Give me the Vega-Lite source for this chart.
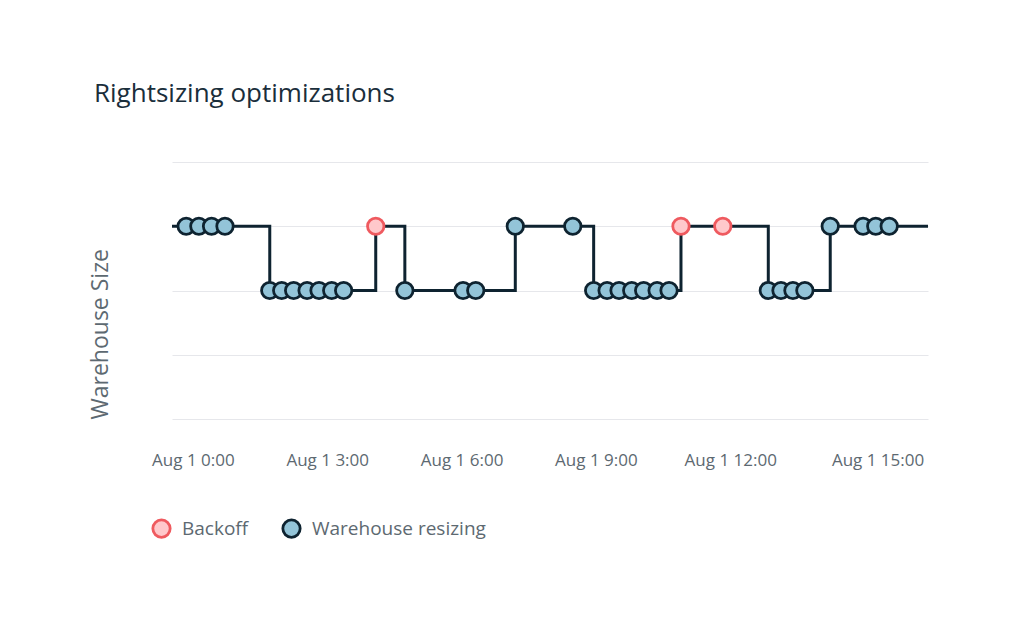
{
  "$schema": "https://vega.github.io/schema/vega-lite/v6.json",
  "autosize": "none",
  "width": 756,
  "height": 257,
  "padding": {"left": 172, "top": 162, "right": 96, "bottom": 218},
  "background": "#ffffff",
  "title": {
    "text": "Rightsizing optimizations",
    "anchor": "start",
    "frame": "group",
    "dx": -78,
    "offset": 34,
    "baseline": "alphabetic",
    "font": "Open Sans",
    "fontSize": 26,
    "fontWeight": "normal",
    "color": "#1a2e3b"
  },
  "config": {
    "view": {"stroke": null},
    "font": "Open Sans"
  },
  "data": {
    "values": [
      {"time": "2023-07-31T23:32", "size": 3, "type": "edge"},
      {"time": "2023-07-31T23:51", "size": 3, "type": "Warehouse resizing"},
      {"time": "2023-08-01T00:08", "size": 3, "type": "Warehouse resizing"},
      {"time": "2023-08-01T00:25", "size": 3, "type": "Warehouse resizing"},
      {"time": "2023-08-01T00:43", "size": 3, "type": "Warehouse resizing"},
      {"time": "2023-08-01T01:43", "size": 2, "type": "Warehouse resizing"},
      {"time": "2023-08-01T01:59", "size": 2, "type": "Warehouse resizing"},
      {"time": "2023-08-01T02:15", "size": 2, "type": "Warehouse resizing"},
      {"time": "2023-08-01T02:33", "size": 2, "type": "Warehouse resizing"},
      {"time": "2023-08-01T02:49", "size": 2, "type": "Warehouse resizing"},
      {"time": "2023-08-01T03:06", "size": 2, "type": "Warehouse resizing"},
      {"time": "2023-08-01T03:22", "size": 2, "type": "Warehouse resizing"},
      {"time": "2023-08-01T04:05", "size": 3, "type": "Backoff"},
      {"time": "2023-08-01T04:44", "size": 2, "type": "Warehouse resizing"},
      {"time": "2023-08-01T06:02", "size": 2, "type": "Warehouse resizing"},
      {"time": "2023-08-01T06:19", "size": 2, "type": "Warehouse resizing"},
      {"time": "2023-08-01T07:12", "size": 3, "type": "Warehouse resizing"},
      {"time": "2023-08-01T08:29", "size": 3, "type": "Warehouse resizing"},
      {"time": "2023-08-01T08:57", "size": 2, "type": "Warehouse resizing"},
      {"time": "2023-08-01T09:15", "size": 2, "type": "Warehouse resizing"},
      {"time": "2023-08-01T09:31", "size": 2, "type": "Warehouse resizing"},
      {"time": "2023-08-01T09:48", "size": 2, "type": "Warehouse resizing"},
      {"time": "2023-08-01T10:04", "size": 2, "type": "Warehouse resizing"},
      {"time": "2023-08-01T10:22", "size": 2, "type": "Warehouse resizing"},
      {"time": "2023-08-01T10:38", "size": 2, "type": "Warehouse resizing"},
      {"time": "2023-08-01T10:54", "size": 3, "type": "Backoff"},
      {"time": "2023-08-01T11:50", "size": 3, "type": "Backoff"},
      {"time": "2023-08-01T12:51", "size": 2, "type": "Warehouse resizing"},
      {"time": "2023-08-01T13:08", "size": 2, "type": "Warehouse resizing"},
      {"time": "2023-08-01T13:24", "size": 2, "type": "Warehouse resizing"},
      {"time": "2023-08-01T13:40", "size": 2, "type": "Warehouse resizing"},
      {"time": "2023-08-01T14:14", "size": 3, "type": "Warehouse resizing"},
      {"time": "2023-08-01T14:58", "size": 3, "type": "Warehouse resizing"},
      {"time": "2023-08-01T15:15", "size": 3, "type": "Warehouse resizing"},
      {"time": "2023-08-01T15:33", "size": 3, "type": "Warehouse resizing"},
      {"time": "2023-08-01T16:25", "size": 3, "type": "edge"}
    ]
  },
  "encoding": {
    "x": {
      "field": "time",
      "type": "temporal",
      "scale": {
        "domain": [
          {"year": 2023, "month": 7, "date": 31, "hours": 23, "minutes": 32},
          {"year": 2023, "month": 8, "date": 1, "hours": 16, "minutes": 25}
        ],
        "nice": false
      },
      "axis": {
        "title": null,
        "values": [
          {"year": 2023, "month": 8, "date": 1, "hours": 0},
          {"year": 2023, "month": 8, "date": 1, "hours": 3},
          {"year": 2023, "month": 8, "date": 1, "hours": 6},
          {"year": 2023, "month": 8, "date": 1, "hours": 9},
          {"year": 2023, "month": 8, "date": 1, "hours": 12},
          {"year": 2023, "month": 8, "date": 1, "hours": 15}
        ],
        "format": "%b %-d %-H:%M",
        "grid": false,
        "ticks": false,
        "domain": false,
        "labelPadding": 33,
        "labelFontSize": 17,
        "labelColor": "#5d6971",
        "labelFont": "Open Sans",
        "labelFlush": false,
        "labelOverlap": false,
        "labelOffset": {"condition": {"test": "hours(datum.value) == 15", "value": 13}, "value": 0}
      }
    },
    "y": {
      "field": "size",
      "type": "quantitative",
      "scale": {"domain": [0, 4], "nice": false, "zero": true},
      "axis": {
        "title": "Warehouse Size",
        "values": [0, 1, 2, 3, 4],
        "labels": false,
        "ticks": false,
        "domain": false,
        "grid": true,
        "gridColor": "#e6e7eb",
        "gridWidth": 1,
        "titleAnchor": "start",
        "titlePadding": 60,
        "titleFontSize": 23,
        "titleFontWeight": "normal",
        "titleColor": "#5d6971",
        "titleFont": "Open Sans"
      }
    }
  },
  "layer": [
    {
      "mark": {"type": "line", "interpolate": "step-after", "color": "#0e2330", "strokeWidth": 3}
    },
    {
      "transform": [{"filter": "datum.type != 'edge'"}],
      "mark": {"type": "point", "shape": "circle", "filled": true, "size": 270, "strokeWidth": 2.8, "opacity": 1},
      "encoding": {
        "fill": {
          "field": "type",
          "type": "nominal",
          "scale": {"domain": ["Backoff", "Warehouse resizing"], "range": ["#ffc8cb", "#93c4d8"]},
          "legend": {
            "title": null,
            "orient": "none",
            "direction": "horizontal",
            "legendX": -21,
            "legendY": 356,
            "symbolType": "circle",
            "symbolSize": 300,
            "symbolStrokeWidth": 2.8,
            "labelFontSize": 19,
            "labelFont": "Open Sans",
            "labelColor": "#5d6971",
            "labelLimit": 0,
            "labelOffset": 10,
            "columnPadding": 28
          }
        },
        "stroke": {
          "field": "type",
          "type": "nominal",
          "scale": {"domain": ["Backoff", "Warehouse resizing"], "range": ["#ef5a5f", "#0e2330"]}
        }
      }
    }
  ]
}
